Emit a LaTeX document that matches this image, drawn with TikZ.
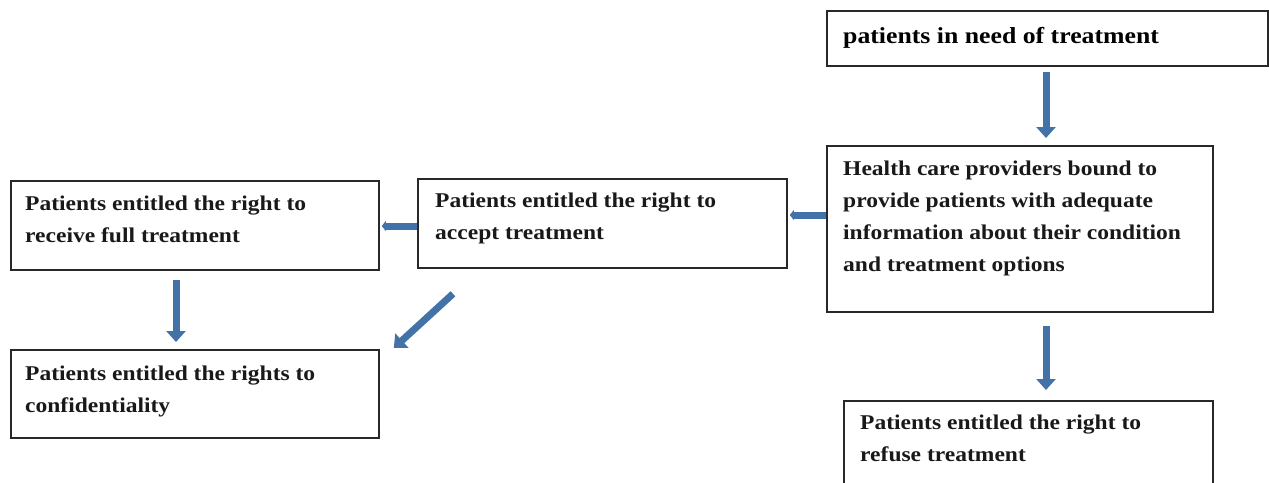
\documentclass[tikz,border=0pt]{standalone}
\usepackage{fontspec}
\setmainfont{Liberation Serif}[FakeStretch=1.12]
\usetikzlibrary{arrows.meta,calc}
\definecolor{arrblue}{RGB}{66,114,168}
\definecolor{boxline}{RGB}{40,40,40}
\begin{document}
\begin{tikzpicture}[x=1pt,y=-1pt,
  box/.style={draw=boxline, line width=1.8pt, anchor=north west, inner sep=0pt},
  txt/.style={anchor=base west, inner sep=0pt, font=\bfseries\fontsize{21}{32}\selectfont, text=black!90},
  arr/.style={draw=arrblue, line width=7pt, -{Triangle[width=19pt,length=11pt]}},
  harr/.style={draw=arrblue, line width=7pt, -{Triangle[width=10pt,length=4pt]}}]
\useasboundingbox (0,0) rectangle (1269,482);
\clip (0,0) rectangle (1269,482);
% boxes
\node[box, minimum width=441pt, minimum height=55pt] (b1) at (826,10) {};
\node[box, minimum width=386pt, minimum height=166pt] (b2) at (826,145) {};
\node[box, minimum width=369pt, minimum height=89pt] (b3) at (417,178) {};
\node[box, minimum width=368pt, minimum height=89pt] (b4) at (10,180) {};
\node[box, minimum width=368pt, minimum height=88pt] (b5) at (10,349) {};
\node[box, minimum width=369pt, minimum height=100pt] (b6) at (843,400) {};
% texts
\node[txt, font=\bfseries\fontsize{23}{32}\selectfont, text=black] (t1) at ($(b1.north west)+(17,33)$) {\parbox[t]{430pt}{patients in need of treatment}};
\node[txt] (t2) at ($(b2.north west)+(17,30)$) {\parbox[t]{380pt}{Health care providers bound to\\provide patients with adequate\\information about their condition\\and treatment options}};
\node[txt] (t3) at ($(b3.north west)+(18,29)$) {\parbox[t]{360pt}{Patients entitled the right to\\accept treatment}};
\node[txt] (t4) at ($(b4.north west)+(15,30)$) {\parbox[t]{360pt}{Patients entitled the right to\\receive full treatment}};
\node[txt] (t5) at ($(b5.north west)+(15,31)$) {\parbox[t]{360pt}{Patients entitled the rights to\\confidentiality}};
\node[txt] (t6) at ($(b6.north west)+(17,29)$) {\parbox[t]{360pt}{Patients entitled the right to\\refuse treatment}};
% arrows
\draw[arr] ($(b1.south west)+(220,5)$) -- ($(b2.north west)+(220,-7)$);
\draw[arr] ($(b2.south west)+(220,13)$) -- ($(b6.north west)+(203,-10)$);
\draw[harr] ($(b2.north west)+(0,70)$) -- ($(b3.north east)+(2,37)$);
\draw[harr] ($(b3.north west)+(0,48)$) -- ($(b4.north east)+(2,46)$);
\draw[arr] ($(b3.south west)+(36,25)$) -- ($(b5.north east)+(14,-1)$);
\draw[arr] ($(b4.south west)+(166,9)$) -- ($(b5.north west)+(166,-7)$);
\end{tikzpicture}
\end{document}
